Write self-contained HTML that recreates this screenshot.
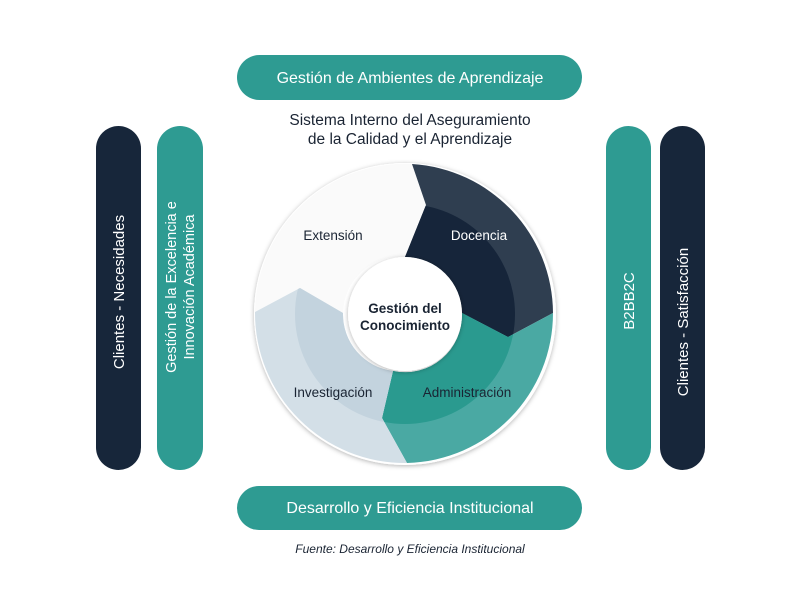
<!DOCTYPE html>
<html><head><meta charset="utf-8"><style>
html,body{margin:0;padding:0;background:#fff;}
svg{display:block;font-family:"Liberation Sans",sans-serif;}
</style></head><body>
<svg width="800" height="594" viewBox="0 0 800 594" xmlns="http://www.w3.org/2000/svg">
<defs>
<clipPath id="inner"><circle cx="405" cy="314" r="110"/></clipPath>
<filter id="sh" x="-20%" y="-20%" width="140%" height="140%"><feDropShadow dx="0" dy="1" stdDeviation="2.5" flood-color="#000" flood-opacity="0.3"/></filter>
</defs>
<rect x="237" y="55" width="345" height="45" rx="22.5" fill="#2e9b92"/>
<text x="410" y="83" font-size="16" fill="#fff" text-anchor="middle">Gestión de Ambientes de Aprendizaje</text>
<rect x="237" y="486" width="345" height="44" rx="22" fill="#2e9b92"/>
<text x="410" y="513" font-size="16" fill="#fff" text-anchor="middle">Desarrollo y Eficiencia Institucional</text>
<rect x="96" y="126" width="45" height="344" rx="22.5" fill="#17263a"/>
<rect x="157" y="126" width="46" height="344" rx="23" fill="#2e9b92"/>
<rect x="606" y="126" width="45" height="344" rx="22.5" fill="#2e9b92"/>
<rect x="660" y="126" width="45" height="344" rx="22.5" fill="#17263a"/>
<text transform="translate(124,292) rotate(-90)" font-size="15" fill="#fff" text-anchor="middle">Clientes - Necesidades</text>
<text transform="translate(176,287) rotate(-90)" font-size="14.5" fill="#fff" text-anchor="middle">Gestión de la Excelencia e</text>
<text transform="translate(194,287) rotate(-90)" font-size="14.5" fill="#fff" text-anchor="middle">Innovación Académica</text>
<text transform="translate(634,301) rotate(-90)" font-size="15" fill="#fff" text-anchor="middle">B2BB2C</text>
<text transform="translate(688,322) rotate(-90)" font-size="15" fill="#fff" text-anchor="middle">Clientes - Satisfacción</text>
<text x="410" y="125" font-size="15.5" fill="#1a2433" text-anchor="middle">Sistema Interno del Aseguramiento</text>
<text x="410" y="144" font-size="15.5" fill="#1a2433" text-anchor="middle">de la Calidad y el Aprendizaje</text>
<text x="410" y="553" font-size="12" font-style="italic" fill="#1a2433" text-anchor="middle">Fuente: Desarrollo y Eficiencia Institucional</text>
<circle cx="405" cy="314" r="151" fill="#fff" filter="url(#sh)"/>
<path d="M343,313 L300,288 L255,312 A150,150 0 0 1 412,164 L426,205 L405,257 A57,57 0 0 0 343,313 Z" fill="#fafafa"/>
<path d="M405,257 L426,205 L412,164 A150,150 0 0 1 553,313 L508,337 L462,313 A57,57 0 0 0 405,257 Z" fill="#2f3e50"/>
<path d="M405,257 L426,205 L412,164 A150,150 0 0 1 553,313 L508,337 L462,313 A57,57 0 0 0 405,257 Z" fill="#16253a" clip-path="url(#inner)"/>
<path d="M462,313 L508,337 L553,313 A150,150 0 0 1 407,463 L382,418 L393,371 A57,57 0 0 0 462,313 Z" fill="#4aa9a3"/>
<path d="M462,313 L508,337 L553,313 A150,150 0 0 1 407,463 L382,418 L393,371 A57,57 0 0 0 462,313 Z" fill="#2a9a8f" clip-path="url(#inner)"/>
<path d="M393,371 L382,418 L407,463 A150,150 0 0 1 255,312 L300,288 L343,313 A57,57 0 0 0 393,371 Z" fill="#d3dfe7"/>
<path d="M393,371 L382,418 L407,463 A150,150 0 0 1 255,312 L300,288 L343,313 A57,57 0 0 0 393,371 Z" fill="#c3d3de" clip-path="url(#inner)"/>
<circle cx="405" cy="314" r="57" fill="#fff" filter="url(#sh)"/>
<text x="333" y="240" font-size="13.5" fill="#1a2433" text-anchor="middle">Extensión</text>
<text x="479" y="240" font-size="13.5" fill="#fff" text-anchor="middle">Docencia</text>
<text x="333" y="397" font-size="13.5" fill="#1a2433" text-anchor="middle">Investigación</text>
<text x="467" y="397" font-size="13.5" fill="#1a2433" text-anchor="middle">Administración</text>
<text x="405" y="313" font-size="13.5" font-weight="bold" fill="#1a2433" text-anchor="middle">Gestión del</text>
<text x="405" y="330" font-size="13.5" font-weight="bold" fill="#1a2433" text-anchor="middle">Conocimiento</text>
</svg>
</body></html>
